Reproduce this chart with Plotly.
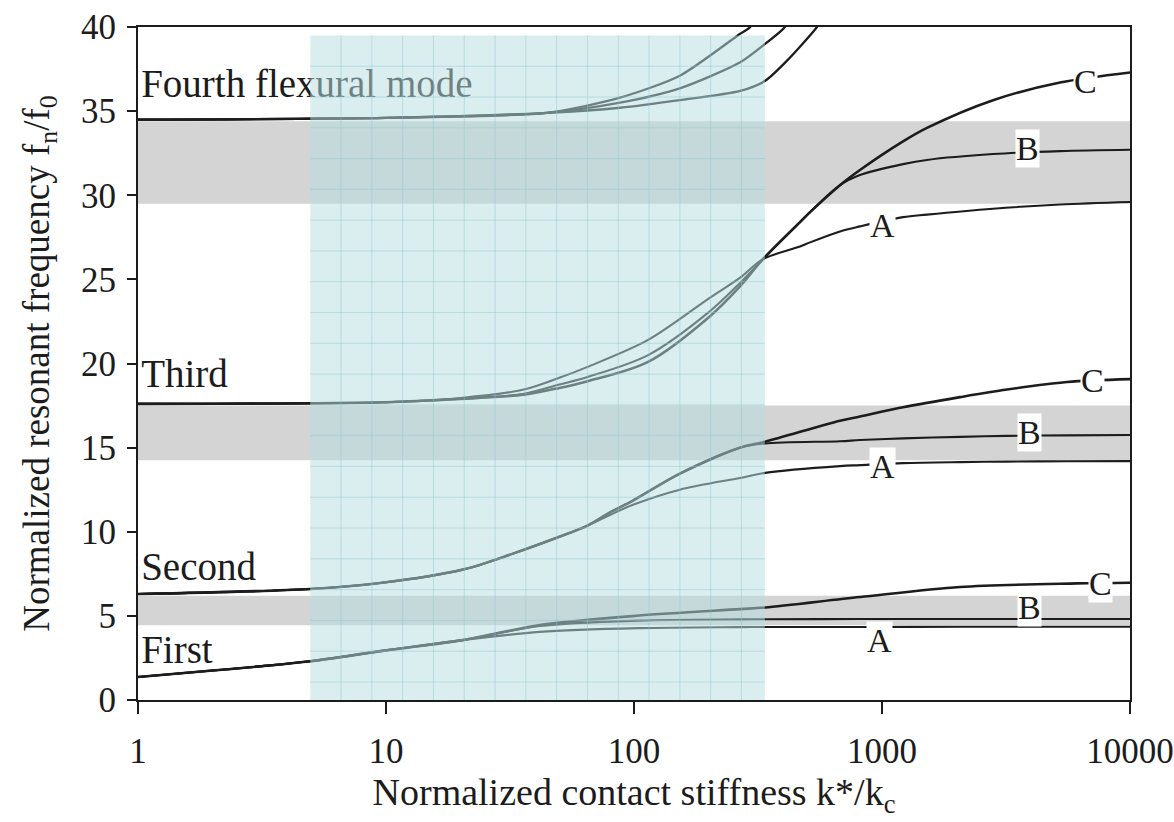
import numpy as np
import plotly.graph_objects as go

# ---- data: normalized resonant frequency vs normalized contact stiffness ----
# First flexural mode
m1_x = [1, 2, 3.1, 4.95, 10, 20.4, 41.7, 105, 268, 338, 815, 2065, 6100, 10000]
m1_a = [1.37, 1.75, 2.0, 2.3, 2.95, 3.56, 4.05, 4.27, 4.33, 4.34, 4.34, 4.35, 4.35, 4.35]
m1_b = [1.37, 1.75, 2.0, 2.3, 2.95, 3.56, 4.4, 4.72, 4.79, 4.8, 4.81, 4.81, 4.81, 4.81]
m1_c = [1.37, 1.75, 2.0, 2.3, 2.95, 3.56, 4.45, 5.02, 5.4, 5.5, 6.12, 6.72, 6.93, 6.97]

# Second flexural mode
m2_x = [1, 4.95, 9.46, 20.4, 32.5, 50, 64.6, 80, 99, 153, 268, 338, 677, 815, 1216, 2065, 3190, 5570, 10000]
m2_a = [6.3, 6.6, 6.95, 7.75, 8.7, 9.7, 10.35, 11.0, 11.6, 12.5, 13.2, 13.5, 13.9, 13.96, 14.08, 14.14, 14.17, 14.19, 14.2]
m2_b = [6.3, 6.6, 6.95, 7.75, 8.7, 9.7, 10.35, 11.15, 11.85, 13.45, 15.0, 15.25, 15.38, 15.45, 15.55, 15.64, 15.7, 15.73, 15.75]
m2_c = [6.3, 6.6, 6.95, 7.75, 8.7, 9.7, 10.35, 11.15, 11.85, 13.45, 15.0, 15.35, 16.6, 16.85, 17.4, 18.0, 18.45, 18.9, 19.07]

# Third flexural mode
m3_x = [1, 10, 20, 36, 50, 65, 114, 202, 268, 331, 467, 513, 677, 815, 1216, 1518, 2804, 5224, 10000]
m3_a = [17.6, 17.7, 17.95, 18.45, 19.15, 19.8, 21.4, 23.9, 25.1, 26.2, 26.95, 27.2, 27.85, 28.15, 28.7, 28.85, 29.2, 29.45, 29.6]
m3_b = [17.6, 17.7, 17.9, 18.2, 18.75, 19.2, 20.5, 23.1, 24.8, 26.2, 28.4, 29.0, 30.6, 31.2, 31.85, 32.1, 32.45, 32.62, 32.7]
m3_c = [17.6, 17.7, 17.9, 18.15, 18.55, 18.95, 20.1, 22.8, 24.6, 26.2, 28.4, 29.0, 30.6, 31.5, 33.2, 34.0, 35.65, 36.7, 37.3]

# Fourth flexural mode (leaves the plotted range above 40)
m4_a_x = [1, 10, 44.6, 87.8, 153, 268, 294, 310]
m4_a = [34.5, 34.6, 34.9, 35.8, 37.1, 39.6, 40.0, 40.8]
m4_b_x = [1, 10, 44.6, 87.8, 153, 268, 338, 406, 430]
m4_b = [34.5, 34.6, 34.9, 35.5, 36.35, 37.9, 39.0, 40.0, 40.8]
m4_c_x = [1, 10, 44.6, 87.8, 153, 268, 338, 414, 547, 580]
m4_c = [34.5, 34.6, 34.9, 35.2, 35.65, 36.2, 36.8, 38.0, 40.0, 40.6]

# Mode names drawn at the left edge
mode_names = ["Fourth flexural mode", "Third", "Second", "First"]
mode_name_y = [36.4, 19.2, 7.7, 2.8]

# Case labels A / B / C on the right-hand branches
case_text = ["A", "B", "C", "A", "B", "C", "A", "B", "C"]
case_x = [1000, 3850, 6590, 1000, 3950, 7090, 980, 3950, 7570]
case_y = [28.2, 32.8, 36.75, 13.85, 15.9, 19.0, 3.56, 5.5, 6.95]

# Shaded frequency bands (low, high)
band_lo = [4.45, 14.25, 29.5]
band_hi = [6.2, 17.5, 34.4]

# Highlighted stiffness window
window_x = [4.95, 337]
window_ytop = 39.5

tick_vals = [1, 10, 100, 1000, 10000]
tick_text = ["1", "10", "100", "1000", "10000"]

FONT = "Liberation Serif, Times New Roman, serif"
INK = "#1c1c1c"

fig = go.Figure()


def curve(x, y, width=2.2, smoothing=0.9):
    fig.add_trace(go.Scatter(
        x=x, y=y, mode="lines",
        line=dict(color=INK, width=width, shape="spline", smoothing=smoothing),
        hoverinfo="skip", showlegend=False,
    ))


for xs, ys, w in [
    (m1_x, m1_a, 2.1), (m1_x, m1_b, 2.1), (m1_x, m1_c, 2.6),
    (m2_x, m2_a, 2.1), (m2_x, m2_b, 2.1), (m2_x, m2_c, 2.6),
    (m3_x, m3_a, 2.1), (m3_x, m3_b, 2.1), (m3_x, m3_c, 2.6),
]:
    curve(xs, ys, w)
for xs, ys in [(m4_a_x, m4_a), (m4_b_x, m4_b), (m4_c_x, m4_c)]:
    curve(xs, ys, 2.3, smoothing=0.7)

# mode names as plot-layer text so the tinted window covers them
fig.add_trace(go.Scatter(
    x=[1.03] * len(mode_names), y=mode_name_y, text=mode_names,
    mode="text", textposition="middle right",
    textfont=dict(family=FONT, size=39, color=INK),
    hoverinfo="skip", showlegend=False,
))

shapes = []
for lo, hi in zip(band_lo, band_hi):
    shapes.append(dict(type="rect", xref="x", yref="y", x0=1, x1=10000, y0=lo, y1=hi,
                       fillcolor="#d4d4d4", line=dict(width=0), layer="below"))

# translucent window over the curves
shapes.append(dict(type="rect", xref="x", yref="y", x0=window_x[0], x1=window_x[1],
                   y0=0, y1=window_ytop, fillcolor="rgba(184,220,224,0.52)",
                   line=dict(width=0), layer="above"))

# fine square grid inside the window
grid_line = dict(color="rgba(140,200,210,0.45)", width=1)
lx0, lx1 = np.log10(window_x[0]), np.log10(window_x[1])
step_dec = 0.1242
step_y = 1.83
k = 1
while lx0 + k * step_dec < lx1:
    xv = 10 ** (lx0 + k * step_dec)
    shapes.append(dict(type="line", xref="x", yref="y", x0=xv, x1=xv, y0=0, y1=window_ytop,
                       line=grid_line, layer="above"))
    k += 1
k = 1
while window_ytop - k * step_y > 0:
    yv = window_ytop - k * step_y
    shapes.append(dict(type="line", xref="x", yref="y", x0=window_x[0], x1=window_x[1],
                       y0=yv, y1=yv, line=grid_line, layer="above"))
    k += 1

annotations = []
for t, x, y in zip(case_text, case_x, case_y):
    annotations.append(dict(x=np.log10(x), y=y, xref="x", yref="y", text=t, showarrow=False,
                            font=dict(family=FONT, size=34, color=INK),
                            bgcolor="white", borderpad=0))

fig.update_layout(
    width=1174, height=822,
    margin=dict(l=138, r=44, t=27, b=122, autoexpand=False),
    paper_bgcolor="white", plot_bgcolor="white",
    shapes=shapes, annotations=annotations,
    font=dict(family=FONT, color=INK),
    xaxis=dict(
        type="log", range=[0, 4], automargin=False,
        tickvals=tick_vals, ticktext=tick_text,
        ticks="outside", ticklen=12, tickwidth=2, tickcolor=INK,
        showline=True, linewidth=2, linecolor=INK, mirror=True,
        showgrid=False, zeroline=False,
        tickfont=dict(family=FONT, size=35, color=INK),
        ticklabelstandoff=7,
        title=dict(text="Normalized contact stiffness k*/k<sub>c</sub>",
                   font=dict(family=FONT, size=38, color=INK), standoff=0),
    ),
    yaxis=dict(
        range=[0, 40], dtick=5, automargin=False,
        ticks="outside", ticklen=9, tickwidth=2, tickcolor=INK,
        showline=True, linewidth=2, linecolor=INK, mirror=True,
        showgrid=False, zeroline=False,
        tickfont=dict(family=FONT, size=35, color=INK),
        ticklabelstandoff=4,
        title=dict(text="Normalized resonant frequency f<sub>n</sub>/f<sub>0</sub>",
                   font=dict(family=FONT, size=37, color=INK), standoff=20),
    ),
)

fig.write_html("out.html")
